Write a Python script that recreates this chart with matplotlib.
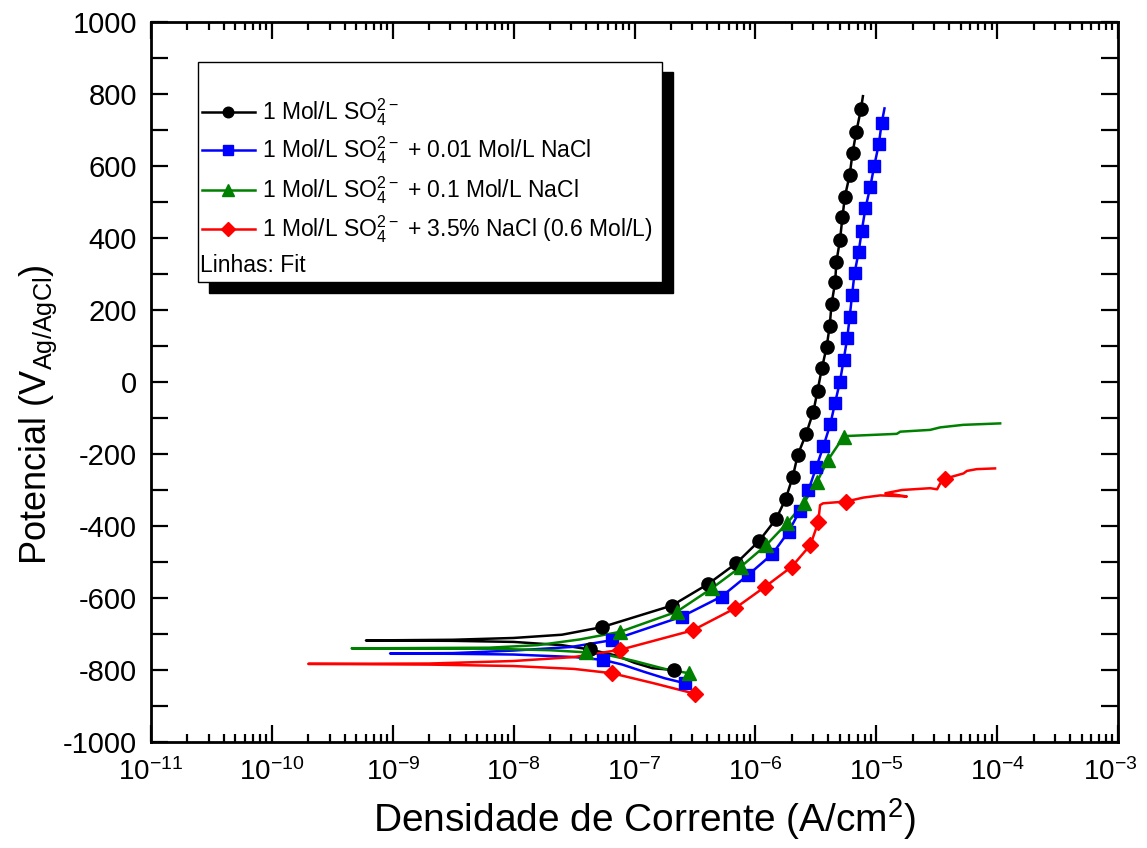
import matplotlib
matplotlib.use("Agg")
import matplotlib.pyplot as plt
import matplotlib.transforms as mtransforms
from matplotlib.patches import Rectangle
from matplotlib.lines import Line2D
from matplotlib.ticker import LogLocator, MultipleLocator, NullFormatter

plt.rcParams['font.family'] = ['Liberation Sans', 'DejaVu Sans']
plt.rcParams['mathtext.fontset'] = 'custom'
plt.rcParams['mathtext.rm'] = 'Liberation Sans'
plt.rcParams['mathtext.it'] = 'Liberation Sans:italic'
plt.rcParams['mathtext.bf'] = 'Liberation Sans:bold'
plt.rcParams['mathtext.default'] = 'regular'
plt.rcParams['axes.unicode_minus'] = False

# ---------------- data (current density A/cm2, potential mV) ----------------
labels = [r'1 Mol/L SO$_4^{2-}$',
          r'1 Mol/L SO$_4^{2-}$ + 0.01 Mol/L NaCl',
          r'1 Mol/L SO$_4^{2-}$ + 0.1 Mol/L NaCl',
          r'1 Mol/L SO$_4^{2-}$ + 3.5% NaCl (0.6 Mol/L)']
colors = ['#000000', '#0000FF', '#008000', '#FF0000']
markers = ['o', 's', '^', 'D']

# black: 1 Mol/L SO4
black_line_i = [2.11e-7, 1.41e-7, 1.0e-7, 7.08e-8, 4.27e-8, 2.51e-8, 1e-8, 3.16e-9, 6.0e-10,
                3.16e-9, 1e-8, 2.51e-8, 5.37e-8, 2.04e-7, 4.07e-7, 6.92e-7, 1.07e-6, 1.48e-6,
                1.78e-6, 2.04e-6, 2.24e-6, 2.63e-6, 3.02e-6, 3.27e-6, 3.55e-6, 3.89e-6, 4.12e-6,
                4.27e-6, 4.57e-6, 4.68e-6, 5.01e-6, 5.25e-6, 5.50e-6, 6.03e-6, 6.37e-6, 6.84e-6,
                7.46e-6, 7.76e-6]
black_line_E = [-800, -795, -780, -760, -743, -731, -722, -719, -718,
                -716, -711, -702, -681, -621, -561, -504, -442, -381,
                -325, -263, -203, -144, -82, -24, 38, 98, 156,
                217, 277, 334, 394, 457, 515, 575, 637, 695,
                757, 794]
black_pts_i = [2.11e-7, 4.27e-8, 5.37e-8, 2.04e-7, 4.07e-7, 6.92e-7, 1.07e-6, 1.48e-6,
               1.78e-6, 2.04e-6, 2.24e-6, 2.63e-6, 3.02e-6, 3.27e-6, 3.55e-6, 3.89e-6, 4.12e-6,
               4.27e-6, 4.57e-6, 4.68e-6, 5.01e-6, 5.25e-6, 5.50e-6, 6.03e-6, 6.37e-6, 6.84e-6,
               7.46e-6]
black_pts_E = [-800, -743, -681, -621, -561, -504, -442, -381,
               -325, -263, -203, -144, -82, -24, 38, 98, 156,
               217, 277, 334, 394, 457, 515, 575, 637, 695,
               757]

# blue: + 0.01 Mol/L NaCl
blue_line_i = [2.63e-7, 1.78e-7, 1.20e-7, 7.94e-8, 5.50e-8, 3.16e-8, 1e-8, 3.16e-9, 9.5e-10,
               3.16e-9, 1e-8, 3.0e-8, 6.53e-8, 2.45e-7, 5.25e-7, 8.71e-7, 1.38e-6, 1.88e-6,
               2.34e-6, 2.75e-6, 3.19e-6, 3.66e-6, 4.17e-6, 4.57e-6, 5.01e-6, 5.37e-6, 5.75e-6,
               6.03e-6, 6.31e-6, 6.61e-6, 7.14e-6, 7.59e-6, 8.13e-6, 8.91e-6, 9.62e-6, 1.05e-5,
               1.11e-5, 1.17e-5]
blue_line_E = [-837, -823, -805, -785, -772, -764, -757, -755, -754,
               -753, -746, -736, -717, -652, -596, -536, -478, -416,
               -357, -300, -237, -178, -117, -57, 1, 61, 121,
               181, 242, 302, 360, 420, 482, 541, 600, 661,
               720, 760]
blue_pts_i = [2.63e-7, 5.50e-8, 6.53e-8, 2.45e-7, 5.25e-7, 8.71e-7, 1.38e-6, 1.88e-6,
              2.34e-6, 2.75e-6, 3.19e-6, 3.66e-6, 4.17e-6, 4.57e-6, 5.01e-6, 5.37e-6, 5.75e-6,
              6.03e-6, 6.31e-6, 6.61e-6, 7.14e-6, 7.59e-6, 8.13e-6, 8.91e-6, 9.62e-6, 1.05e-5,
              1.11e-5]
blue_pts_E = [-837, -772, -717, -652, -596, -536, -478, -416,
              -357, -300, -237, -178, -117, -57, 1, 61, 121,
              181, 242, 302, 360, 420, 482, 541, 600, 661,
              720]

# green: + 0.1 Mol/L NaCl
green_line_i = [2.82e-7, 1.78e-7, 1e-7, 6.31e-8, 3.98e-8, 2.0e-8, 6.31e-9, 4.57e-10,
                6.31e-9, 1.58e-8, 3.55e-8, 7.59e-8, 2.24e-7, 4.37e-7, 7.59e-7, 1.23e-6,
                1.82e-6, 2.51e-6, 3.24e-6, 3.98e-6, 5.37e-6, 5.75e-6, 1.48e-5, 1.58e-5,
                2.79e-5, 3.39e-5, 5.25e-5, 1.06e-4]
green_line_E = [-809, -797, -775, -760, -751, -745, -741, -740,
                -738, -731, -715, -694, -638, -573, -513, -453,
                -393, -337, -277, -217, -152, -150, -144, -138,
                -133, -126, -119, -115]
green_pts_i = [2.82e-7, 3.98e-8, 7.59e-8, 2.24e-7, 4.37e-7, 7.59e-7, 1.23e-6,
               1.82e-6, 2.51e-6, 3.24e-6, 3.98e-6, 5.37e-6]
green_pts_E = [-809, -751, -694, -638, -573, -513, -453,
               -393, -337, -277, -217, -152]

# red: + 3.5% NaCl
red_line_i = [3.16e-7, 1.45e-7, 6.53e-8, 3.16e-8, 1e-8, 2.0e-9, 2.0e-10,
              2.0e-9, 1e-8, 3.16e-8, 7.59e-8, 3.02e-7, 6.76e-7, 1.20e-6, 2.0e-6, 2.85e-6,
              3.31e-6, 3.43e-6, 3.63e-6, 5.62e-6, 7.85e-6, 1.08e-5, 1.79e-5, 1.19e-5,
              1.63e-5, 2.79e-5, 3.19e-5, 3.38e-5, 3.72e-5, 4.23e-5, 5.27e-5, 5.62e-5,
              6.79e-5, 9.61e-5]
red_line_E = [-866, -837, -809, -797, -789, -785, -783,
              -782, -775, -764, -744, -690, -629, -569, -513, -453,
              -390, -342, -337, -332, -321, -315, -318, -309,
              -300, -295, -298, -282, -269, -263, -254, -247,
              -242, -240]
red_pts_i = [3.16e-7, 6.53e-8, 7.59e-8, 3.02e-7, 6.76e-7, 1.20e-6, 2.0e-6, 2.85e-6,
             3.31e-6, 5.62e-6, 3.72e-5]
red_pts_E = [-866, -809, -744, -690, -629, -569, -513, -453,
             -390, -332, -269]

series = [
    (black_line_i, black_line_E, black_pts_i, black_pts_E, 9.5),
    (blue_line_i, blue_line_E, blue_pts_i, blue_pts_E, 8.5),
    (green_line_i, green_line_E, green_pts_i, green_pts_E, 10),
    (red_line_i, red_line_E, red_pts_i, red_pts_E, 8.5),
]

x_label = r'Densidade de Corrente (A/cm$^2$)'
y_label = r'Potencial (V$_{Ag/AgCl}$)'
legend_note = 'Linhas: Fit'

# ---------------- figure ----------------
W, H = 1147, 848
fig = plt.figure(figsize=(W / 100, H / 100), dpi=100)
L, R, T, B = 151, 1118, 22, 742
ax = fig.add_axes([L / W, 1 - B / H, (R - L) / W, (B - T) / H])

order = [3, 2, 1, 0]
for k in order:
    li, lE, pi, pE, ms = series[k]
    ax.plot(li, lE, color=colors[k], lw=1.8, zorder=2 + k * 0.1)
    ax.plot(pi, pE, ls='none', marker=markers[k], ms=ms, color=colors[k],
            mec=colors[k], zorder=3 + k * 0.1)

ax.set_xscale('log')
ax.set_xlim(1e-11, 1e-3)
ax.set_ylim(-1000, 1000)
ax.xaxis.set_major_locator(LogLocator(base=10, numticks=20))
ax.xaxis.set_minor_locator(LogLocator(base=10, subs=range(2, 10), numticks=20))
ax.xaxis.set_minor_formatter(NullFormatter())
ax.yaxis.set_major_locator(MultipleLocator(200))
ax.yaxis.set_minor_locator(MultipleLocator(100))

for s in ax.spines.values():
    s.set_linewidth(2.0)
ax.tick_params(axis='both', which='both', direction='in', top=True, right=True, width=1.6)
ax.tick_params(axis='x', which='major', length=12, labelsize=20, pad=12)
ax.tick_params(axis='x', which='minor', length=6)
ax.tick_params(axis='y', which='major', length=12, labelsize=21, pad=10)
ax.tick_params(axis='y', which='minor', length=12)

ax.set_xlabel(x_label, fontsize=28)
ax.set_ylabel(y_label, fontsize=26)
ax.xaxis.set_label_coords(0.51, -0.075)
ax.yaxis.set_label_coords(-0.095, 0.455)

# ---------------- legend (manual, Origin style) ----------------
def fx(px):
    return (px - L) / (R - L)

def fy(py):
    return (B - py) / (B - T)

bx0, bx1, by0, by1 = 198, 662, 62, 282
off = 10.5
ax.add_patch(Rectangle((fx(bx0 + off), fy(by1 + off)), fx(bx1 + off) - fx(bx0 + off),
                       fy(by0 + off) - fy(by1 + off), transform=ax.transAxes,
                       facecolor='black', edgecolor='black', zorder=8, clip_on=False))
ax.add_patch(Rectangle((fx(bx0), fy(by1)), fx(bx1) - fx(bx0), fy(by0) - fy(by1),
                       transform=ax.transAxes, facecolor='white', edgecolor='black',
                       lw=1.0, zorder=9, clip_on=False))
rows = [111.7, 150, 190, 229.3]
for k, py in enumerate(rows):
    ax.add_line(Line2D([fx(201.7), fx(255)], [fy(py), fy(py)], transform=ax.transAxes,
                       color=colors[k], lw=1.8, zorder=10))
    ax.add_line(Line2D([fx(228)], [fy(py)], transform=ax.transAxes, ls='none',
                       marker=markers[k], ms=series[k][4] * 0.8, color=colors[k], zorder=10))
    ax.text(fx(261.7), fy(py + 7.5), labels[k], transform=ax.transAxes, fontsize=16.5,
            va='baseline', ha='left', zorder=11)
ax.text(fx(200), fy(265 + 7.5), legend_note, transform=ax.transAxes, fontsize=16.5,
        va='baseline', ha='left', zorder=11)

# nudge the last decade label so it stays inside the canvas (as in the reference)
fig.canvas.draw()
shift = mtransforms.ScaledTranslation(-8 / 100, 0, fig.dpi_scale_trans)
for tick in ax.xaxis.get_major_ticks():
    if abs(tick.get_loc() - 1e-3) < 1e-6:
        tick.label1.set_transform(tick.label1.get_transform() + shift)

fig.savefig('out.png', dpi=100)
